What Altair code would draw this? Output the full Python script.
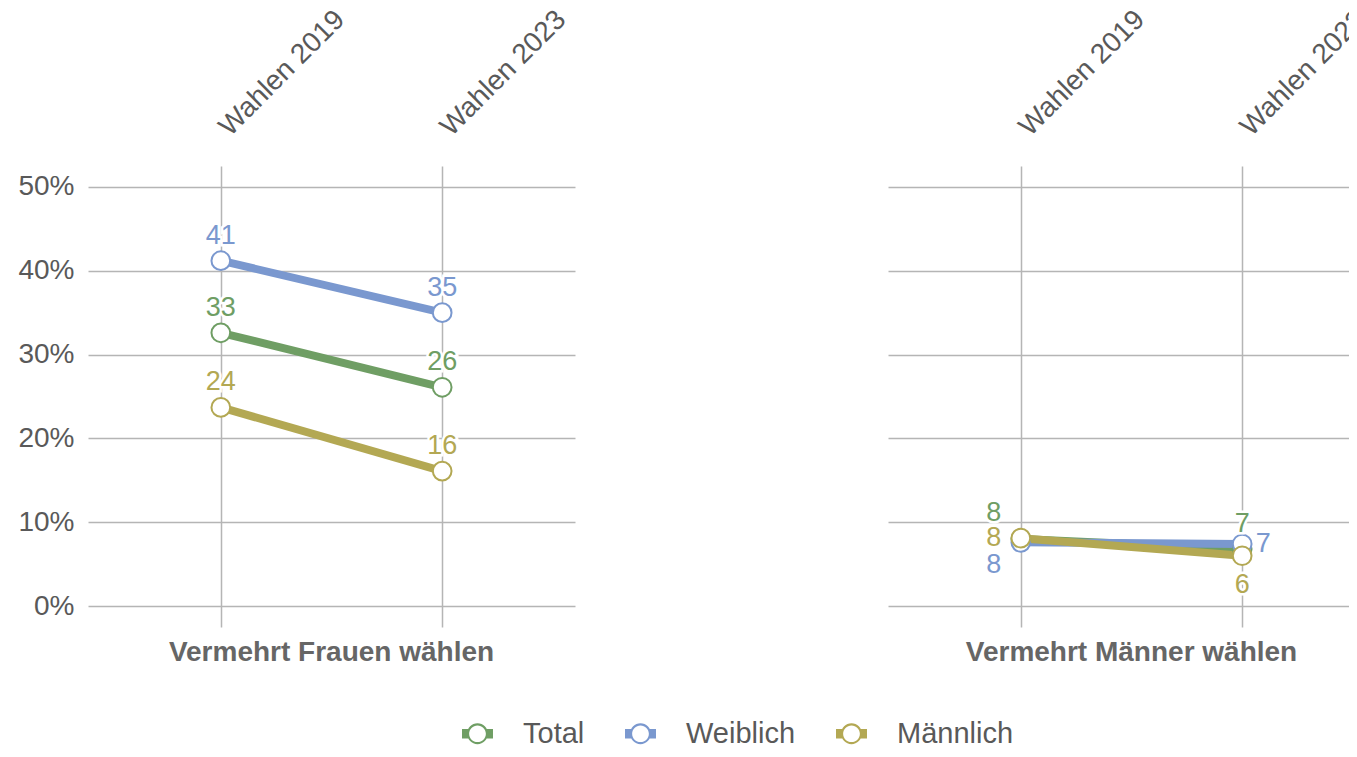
import altair as alt
import pandas as pd

# ---- data -------------------------------------------------------------
years = ["Wahlen 2019", "Wahlen 2023"]
panels = ["Vermehrt Frauen wählen", "Vermehrt Männer wählen"]
series = ["Total", "Weiblich", "Männlich"]
colors = ["#6f9e64", "#7a98cf", "#b3a853"]

frauen_total = [32.6, 26.1]
frauen_weiblich = [41.2, 35.0]
frauen_maennlich = [23.7, 16.1]

maenner_total = [8.0, 6.8]
maenner_weiblich = [7.6, 7.4]
maenner_maennlich = [8.1, 6.0]

# label placement (style, kept apart from the values)
placement = {
    ("Vermehrt Männer wählen", "Total", "Wahlen 2019"): "above-left",
    ("Vermehrt Männer wählen", "Weiblich", "Wahlen 2019"): "below-left",
    ("Vermehrt Männer wählen", "Männlich", "Wahlen 2019"): "left",
    ("Vermehrt Männer wählen", "Total", "Wahlen 2023"): "above",
    ("Vermehrt Männer wählen", "Weiblich", "Wahlen 2023"): "right",
    ("Vermehrt Männer wählen", "Männlich", "Wahlen 2023"): "below",
}
offsets = {
    "above": (0, -25),
    "below": (0, 29),
    "left": (-27, 0),
    "right": (21, 0),
    "above-left": (-27, -26),
    "below-left": (-27, 23),
}

values = {
    ("Vermehrt Frauen wählen", "Total"): frauen_total,
    ("Vermehrt Frauen wählen", "Weiblich"): frauen_weiblich,
    ("Vermehrt Frauen wählen", "Männlich"): frauen_maennlich,
    ("Vermehrt Männer wählen", "Total"): maenner_total,
    ("Vermehrt Männer wählen", "Weiblich"): maenner_weiblich,
    ("Vermehrt Männer wählen", "Männlich"): maenner_maennlich,
}

rows = []
for p in panels:
    for s in series:
        for y, v in zip(years, values[(p, s)]):
            rows.append({"panel": p, "series": s, "line_series": s, "year": y,
                         "value": v, "place": placement.get((p, s, y), "above")})
df = pd.DataFrame(rows)

FONT = "Liberation Sans"
TEXT = "#595959"
GRID = "#b5b5b5"

legend_path = (
    "M-1,-0.3L-1,0.3L-0.56,0.3L-0.56,-0.3Z "
    "M0.56,-0.3L0.56,0.3L1,0.3L1,-0.3Z "
    "M0.67,0A0.67,0.67,0,1,0,-0.67,0A0.67,0.67,0,1,0,0.67,0Z "
    "M0.54,0A0.54,0.54,0,1,1,-0.54,0A0.54,0.54,0,1,1,0.54,0Z"
)

color_scale = alt.Scale(domain=series, range=colors)
stroke_scale = alt.Scale(range=colors)

x_enc = alt.X(
    "year:N",
    sort=years,
    scale=alt.Scale(type="point", padding=0.6),
    axis=alt.Axis(
        orient="top", title=None, labelAngle=315, grid=True, ticks=False,
        domain=False, labelPadding=35, labelOffset=3, labelFontSize=28,
        labelColor=TEXT, labelFont=FONT, labelAlign="left",
        labelBaseline="middle", gridColor=GRID, gridWidth=1.5,
    ),
)
y_enc = alt.Y(
    "value:Q",
    scale=alt.Scale(domain=[-2.5, 52.5], nice=False, zero=False),
    axis=alt.Axis(
        title=None, values=[0, 10, 20, 30, 40, 50], labelExpr="datum.value + '%'",
        grid=True, ticks=False, domain=False, labelPadding=14,
        labelFontSize=28, labelColor=TEXT, labelFont=FONT,
        gridColor=GRID, gridWidth=1.5,
    ),
)

base = alt.Chart().encode(x=x_enc, y=y_enc)

lines = base.mark_line(strokeWidth=8, strokeCap="butt").encode(
    stroke=alt.Stroke("line_series:N", sort=series, scale=stroke_scale,
                      legend=None),
    detail="line_series:N",
)
points = base.mark_point(filled=False, fill="white", fillOpacity=1, size=350,
                         strokeWidth=2, opacity=1).encode(
    stroke=alt.Stroke("line_series:N", sort=series, scale=stroke_scale,
                      legend=None),
)

legend = alt.Legend(
    orient="none", legendX=374, legendY=552, direction="horizontal",
    title=None, symbolType=legend_path, symbolSize=960,
    symbolStrokeWidth=0, symbolOpacity=1, labelFontSize=29,
    labelColor=TEXT, labelFont=FONT, labelOffset=30, columnPadding=40,
)

label_layers = []
for place, (dx, dy) in offsets.items():
    sub = base.transform_filter(alt.datum.place == place)
    halo = sub.mark_text(dx=dx, dy=dy, fontSize=27, font=FONT, fill="white",
                         stroke="white", strokeWidth=5, align="center",
                         baseline="middle").encode(
        text=alt.Text("value:Q", format=".0f"))
    txt = sub.mark_text(dx=dx, dy=dy, fontSize=27, font=FONT, align="center",
                        baseline="middle").encode(
        text=alt.Text("value:Q", format=".0f"),
        color=alt.Color("series:N", scale=color_scale, legend=legend),
    )
    label_layers += [halo, txt]

layered = alt.layer(lines, points, *label_layers, data=df).properties(
    width=487, height=461)

chart = layered.facet(
    column=alt.Column(
        "panel:N", sort=panels, title=None,
        header=alt.Header(labelOrient="bottom", labelFontSize=28,
                          labelFontWeight="bold", labelColor="#666666",
                          labelFont=FONT, labelPadding=12),
    ),
    spacing=313,
).properties(
    autosize=alt.AutoSizeParams(type="none"),
    padding={"left": 80, "top": 158, "right": 1261, "bottom": 583},
).configure(font=FONT).configure_view(strokeWidth=0, stroke="transparent")

chart.save("out.html", embed_options={"renderer": "svg", "actions": False})
